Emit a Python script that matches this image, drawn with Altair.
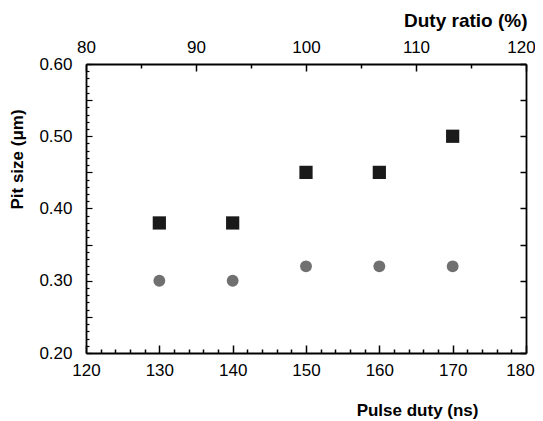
import altair as alt
import pandas as pd

# Data
pulse_duty = [130, 140, 150, 160, 170]          # ns
pit_square = [0.38, 0.38, 0.45, 0.45, 0.50]     # um, square markers
pit_circle = [0.30, 0.30, 0.32, 0.32, 0.32]     # um, circle markers
series_names = ["square", "circle"]

x_ticks = list(range(120, 181, 2))
x_top_ticks = list(range(80, 121, 5))
y_ticks = [round(0.20 + 0.01 * i, 2) for i in range(41)]
y_right_ticks = [round(0.20 + 0.05 * i, 2) for i in range(9)]

rows = []
for p, s in zip(pulse_duty, pit_square):
    rows.append({"pulse": p, "pit": s, "series": series_names[0]})
for p, c in zip(pulse_duty, pit_circle):
    rows.append({"pulse": p, "pit": c, "series": series_names[1]})
df = pd.DataFrame(rows)

FONT = "Liberation Sans"

x_bottom = alt.X(
    "pulse:Q",
    scale=alt.Scale(domain=[120, 180], nice=False, zero=False),
    axis=alt.Axis(
        orient="bottom", values=x_ticks, grid=False,
        labelExpr="datum.value % 10 === 0 ? datum.label : ''",
        tickSize={"condition": {"test": "datum.value % 10 === 0", "value": -8}, "value": -4},
        tickColor="black", tickWidth=1.5, domainColor="black", domainWidth=1.8,
        labelFont=FONT, labelFontSize=17, labelColor="black", labelPadding=17,
        labelFlush=False, labelOverlap=False,
        labelOffset={"condition": {"test": "datum.value === 180", "value": -6}, "value": 0},
        title="Pulse duty (ns)", titleFont=FONT, titleFontSize=17, titleFontWeight="bold",
        titleColor="black", titleAlign="right", titleBaseline="middle",
        titleX=392, titleY=57, titleAngle=0,
    ),
)

y_left = alt.Y(
    "pit:Q",
    scale=alt.Scale(domain=[0.2, 0.6], nice=False, zero=False),
    axis=alt.Axis(
        orient="left", values=y_ticks, grid=False,
        labelExpr="round(datum.value * 100) % 10 === 0 ? format(datum.value, '.2f') : ''",
        tickSize={"condition": {"test": "round(datum.value * 100) % 5 === 0", "value": -6}, "value": -3},
        tickColor="black", tickWidth=1.2, domainColor="black", domainWidth=1.8,
        labelFont=FONT, labelFontSize=17, labelColor="black", labelPadding=20,
        labelFlush=False, labelOverlap=False,
        title="Pit size (μm)", titleFont=FONT, titleFontSize=17, titleFontWeight="bold",
        titleColor="black", titleAlign="center", titleBaseline="middle",
        titleAngle=270, titleX=-69, titleY=95,
    ),
)

points = alt.Chart(df).mark_point(filled=True, opacity=1, strokeWidth=0).encode(
    x=x_bottom,
    y=y_left,
    shape=alt.Shape("series:N", scale=alt.Scale(domain=series_names, range=["square", "circle"]), legend=None),
    color=alt.Color("series:N", scale=alt.Scale(domain=series_names, range=["#1a1a1a", "#707070"]), legend=None),
    size=alt.Size("series:N", scale=alt.Scale(domain=series_names, range=[175, 140]), legend=None),
)

top_right = alt.Chart(df).transform_calculate(
    ratio="datum.pulse / 1.5"
).mark_point(opacity=0).encode(
    x=alt.X(
        "ratio:Q",
        scale=alt.Scale(domain=[80, 120], nice=False, zero=False),
        axis=alt.Axis(
            orient="top", values=x_top_ticks, grid=False,
            labelExpr="datum.value % 10 === 0 ? datum.label : ''",
            tickSize={"condition": {"test": "datum.value % 10 === 0", "value": -7}, "value": -4},
            tickColor="black", tickWidth=1.5, domainColor="black", domainWidth=1.8,
            labelFont=FONT, labelFontSize=17, labelColor="black", labelPadding=15,
            labelFlush=False, labelOverlap=False,
            labelOffset={"condition": {"test": "datum.value === 120", "value": -5}, "value": 0},
            title="Duty ratio (%)", titleFont=FONT, titleFontSize=19, titleFontWeight="bold",
            titleColor="black", titleAlign="right", titleBaseline="middle",
            titleX=441, titleY=-44, titleAngle=0,
        ),
    ),
    y=alt.Y(
        "pit:Q",
        scale=alt.Scale(domain=[0.2, 0.6], nice=False, zero=False),
        axis=alt.Axis(
            orient="right", values=y_right_ticks, grid=False, labels=False,
            tickSize=alt.ExprRef(expr="-6"), tickColor="black", tickWidth=1.5,
            domainColor="black", domainWidth=1.8, title=None,
        ),
    ),
)

chart = alt.layer(points, top_right).resolve_scale(
    x="independent", y="independent"
).properties(
    width=440, height=289,
    autosize=alt.AutoSizeParams(type="none"),
    padding={"left": 78, "top": 56, "right": 9, "bottom": 68},
).configure_view(strokeWidth=0)

chart.save("out.html", embed_options={"renderer": "svg", "actions": False})
